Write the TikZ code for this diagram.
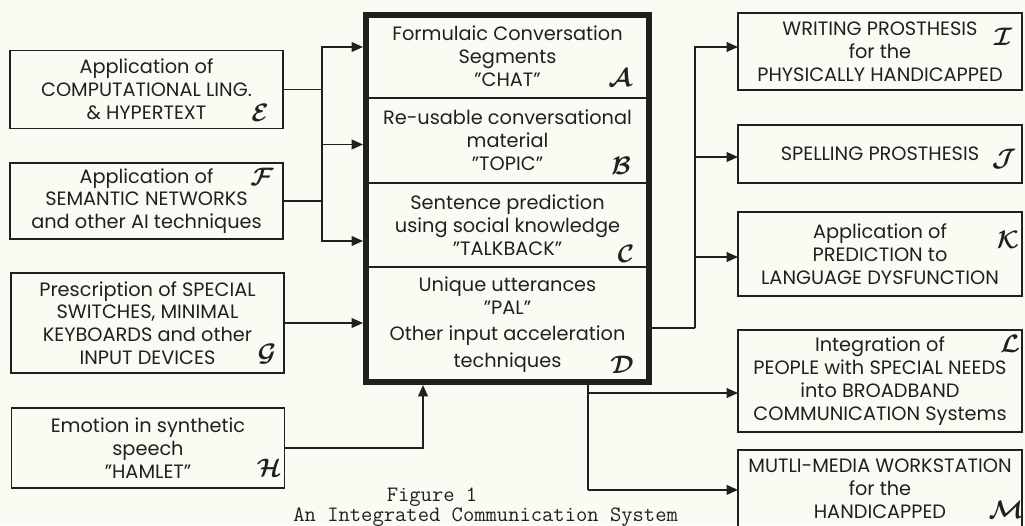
\documentclass[tikz,border=0pt]{standalone}
\usepackage{amsmath}
\usepackage{fontspec}
\setmainfont{Poppins}
\usepackage{xcolor}
\usetikzlibrary{arrows.meta}
\usetikzlibrary{positioning}
\definecolor{paper}{RGB}{251,250,243}
\definecolor{ink}{RGB}{34,32,30}
\newcommand{\tagl}[1]{$\boldsymbol{\mathcal{#1}}$}
\tikzset{
  box/.style={draw=ink, line width=0.9pt, align=center, inner sep=0pt, outer sep=0pt, text=ink, font=\fontsize{11}{13}\selectfont},
  srcbox/.style={box, minimum width=5.46cm},
  dstbox/.style={box, minimum width=5.68cm},
  part/.style={box, minimum width=5.66cm},
  tag/.style={text=ink, inner sep=0pt, font=\fontsize{15}{15}\selectfont},
  figcap/.style={text=ink, inner sep=0pt, font=\ttfamily\fontsize{12.5}{13}\selectfont},
  conn/.style={draw=ink, line width=1pt},
  arr/.style={conn, -{Triangle[length=6.5pt,width=5.5pt]}},
  arrin/.style={arr, shorten >=1.7pt},
}
\begin{document}
\begin{tikzpicture}[x=0.02cm, y=-0.02cm]
\fill[paper] (0,0) rectangle (1025,525);
\useasboundingbox (0,0) rectangle (1025,525);
%left column
\node[srcbox, minimum height=1.56cm] (E) at (146.5,89.5) {Application of\\COMPUTATIONAL LING.\\\& HYPERTEXT};
\node[srcbox, minimum height=1.52cm] (F) at (146.5,201) {Application of\\SEMANTIC NETWORKS\\and other AI techniques};
\node[srcbox, minimum height=2cm] (G) at (147.5,323) {Prescription of SPECIAL\\SWITCHES, MINIMAL\\KEYBOARDS and other\\INPUT DEVICES};
\node[srcbox, minimum height=1.6cm] (H) at (148,448) {Emotion in synthetic\\speech\\"HAMLET"};
\node[tag] (tE) at (260,113) {\tagl{E}};
\node[tag] (tF) at (262,177) {\tagl{F}};
\node[tag] (tG) at (267,354) {\tagl{G}};
\node[tag] (tH) at (269,468) {\tagl{H}};
%centre block
\node[part, minimum height=1.66cm] (A) at (507.5,56.5) {Formulaic Conversation\\Segments\\"CHAT"};
\node[part, minimum height=1.7cm, below=0pt of A] (B) {Re-usable conversational\\material\\"TOPIC"};
\node[part, minimum height=1.68cm, below=0pt of B] (C) {Sentence prediction\\using social knowledge\\"TALKBACK"};
\node[part, minimum height=2.3cm, below=0pt of C] (D) {Unique utterances\\"PAL"\\[2pt]Other input acceleration\\[2pt]techniques};
\draw[ink, line width=3.4pt] (A.north west) rectangle (D.south east);
\node[tag] (tA) at (620,78) {\tagl{A}};
\node[tag] (tB) at (621,166) {\tagl{B}};
\node[tag] (tC) at (626,254) {\tagl{C}};
\node[tag] (tD) at (622,365) {\tagl{D}};
%right column
\node[dstbox, minimum height=1.54cm] (I) at (880,51.5) {WRITING PROSTHESIS\\for the\\PHYSICALLY HANDICAPPED};
\node[dstbox, minimum height=1.16cm] (J) at (880,154) {SPELLING PROSTHESIS};
\node[dstbox, minimum height=1.68cm] (K) at (880,254) {Application of\\PREDICTION to\\LANGUAGE DYSFUNCTION};
\node[dstbox, minimum height=2.04cm] (L) at (880,381) {Integration of\\PEOPLE with SPECIAL NEEDS\\into BROADBAND\\COMMUNICATION Systems};
\node[dstbox, minimum height=1.56cm] (M) at (880,489) {MUTLI-MEDIA WORKSTATION\\for the\\HANDICAPPED};
\node[tag] (tI) at (1003,37) {\tagl{I}};
\node[tag] (tJ) at (1004,159) {\tagl{J}};
\node[tag] (tK) at (1008,240) {\tagl{K}};
\node[tag] (tL) at (1010,344) {\tagl{L}};
\node[tag] (tM) at (1006,510) {\tagl{M}};
%left bus
\draw[conn] (E.east) -- ++(0.78cm,0) coordinate (lbus);
\draw[arrin] (lbus) |- ([yshift=0.19cm]A.west);
\draw[arrin] (lbus) |- ([yshift=-0.08cm]B.west);
\draw[arrin] (lbus) |- ([yshift=-0.32cm]C.west);
\draw[conn] (F.east) -- (F.east -| lbus);
\draw[arrin] (G.east) -- (G.east -| D.west);
\draw[arrin] (H.east) -| ([xshift=-1.69cm]D.south);
%right bus
\draw[conn] ([yshift=-0.07cm]D.east) -- ++(0.92cm,0) coordinate (rbus);
\draw[arr] (rbus) |- ([yshift=0.09cm]I.west);
\draw[arr] (rbus) |- ([yshift=-0.06cm]J.west);
\draw[arr] (rbus) |- ([yshift=-0.06cm]K.west);
\draw[conn] ([xshift=1.61cm]D.south) -- ++(0,-2.16cm) coordinate (dbus);
\draw[arr] (dbus) |- ([yshift=-0.24cm]L.west);
\draw[arr] (dbus) -- (dbus -| M.west);
%caption
\node[figcap] (fig) at (432,497) {Figure 1};
\node[figcap, anchor=base west] (title) at (293,521) {An Integrated Communication System};
\end{tikzpicture}
\end{document}
